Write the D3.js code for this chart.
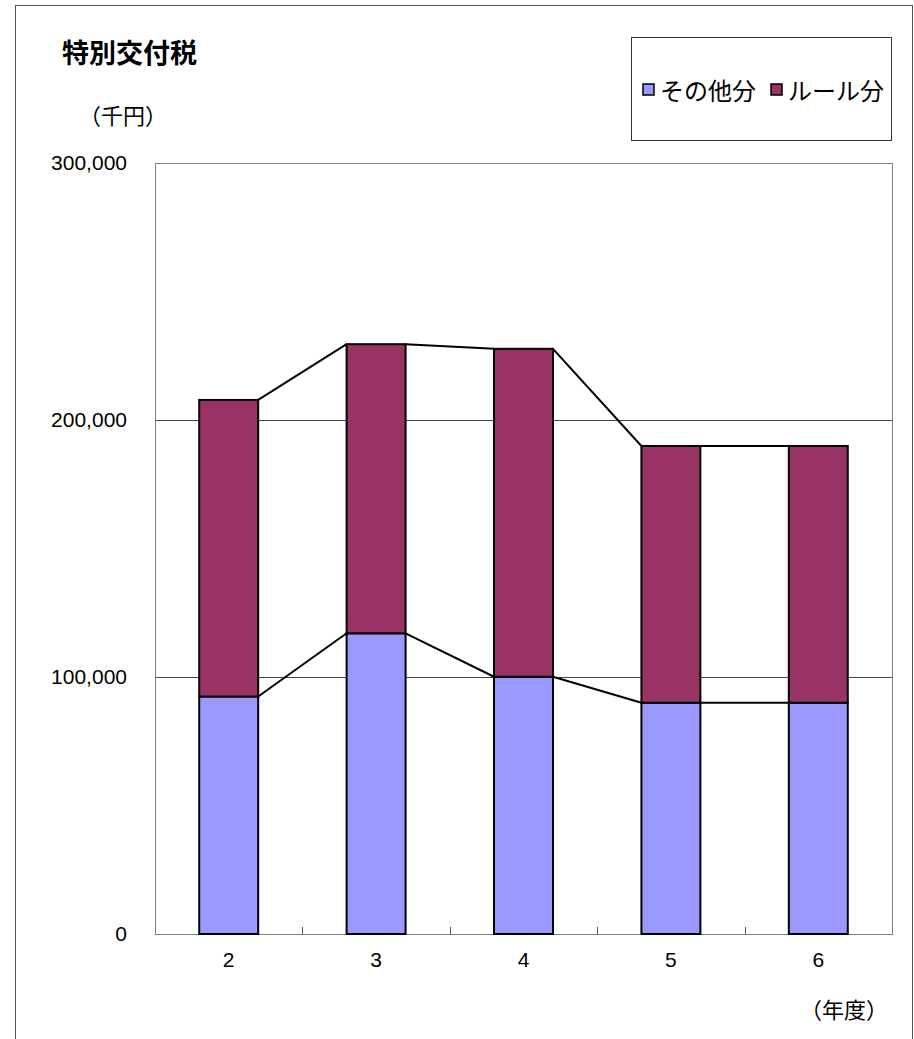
<!DOCTYPE html>
<html>
<head>
<meta charset="utf-8">
<script src="https://cdn.jsdelivr.net/npm/d3@7"></script>
<style>
  body { margin: 0; background: #fff; }
  text { font-family: "Liberation Sans", Arial, "Noto Sans CJK JP", sans-serif; }
</style>
</head>
<body>
<div id="chart"></div>
<script>
// 年度
var years = ["2", "3", "4", "5", "6"];
// その他分 / ルール分 (千円)
var otherValues = [92400, 117000, 100100, 90000, 90000];
var ruleValues = [115400, 112500, 127600, 99900, 99900];
var yTicks = [0, 100000, 200000, 300000];
var seriesNames = ["その他分", "ルール分"];
var seriesColors = ["#9999ff", "#993366"];

var W = 914, H = 1039;
var margin = {top: 163, right: 22, bottom: 105, left: 155};
var width = W - margin.left - margin.right;
var height = H - margin.top - margin.bottom;

var svg = d3.select("#chart").append("svg")
    .attr("width", W)
    .attr("height", H);

// outer frame
svg.append("rect")
    .attr("x", 15.5).attr("y", 5.5)
    .attr("width", 897).attr("height", H)
    .attr("fill", "none").attr("stroke", "#555").attr("stroke-width", 1);

svg.append("text")
    .attr("x", 62).attr("y", 63)
    .attr("font-size", 27).attr("font-weight", "bold")
    .text("特別交付税");

svg.append("text")
    .attr("x", 79).attr("y", 124)
    .attr("font-size", 22)
    .text("（千円）");

var rows = years.map(function (y, i) {
    return {year: y, other: otherValues[i], rule: ruleValues[i]};
});

var xscale = d3.scaleBand().domain(years).range([0, width]).padding(0);
var yscale = d3.scaleLinear().domain([0, 300000]).range([height, 0]);
var barW = xscale.bandwidth() * 0.4;

var g = svg.append("g")
    .attr("transform", "translate(" + margin.left + "," + margin.top + ")");

// grid lines
g.append("g").selectAll("line")
    .data(yTicks.filter(function (d) { return d > 0 && d < 300000; }))
    .enter().append("line")
    .attr("x1", 0).attr("x2", width)
    .attr("y1", function (d) { return Math.round(yscale(d)) + 0.5; })
    .attr("y2", function (d) { return Math.round(yscale(d)) + 0.5; })
    .attr("stroke", "#444").attr("stroke-width", 1);

// plot frame
g.append("rect")
    .attr("x", 0.5).attr("y", 0.5)
    .attr("width", width).attr("height", height)
    .attr("fill", "none").attr("stroke", "#808080").attr("stroke-width", 1);

// y axis labels
var yAxis = d3.axisLeft(yscale).tickValues(yTicks).tickSize(0).tickPadding(28)
    .tickFormat(d3.format(","));
g.append("g").call(yAxis)
    .call(function (s) { s.select(".domain").remove(); })
    .selectAll("text")
    .attr("font-size", 21)
    .attr("fill", "#000")
    .style("font-family", "'Liberation Sans', Arial, sans-serif");

// x axis
var xAxis = d3.axisBottom(xscale).tickSize(0).tickPadding(18);
var xg = g.append("g").attr("transform", "translate(0," + height + ")").call(xAxis);
xg.select(".domain").attr("stroke", "#808080");
xg.selectAll("text").attr("font-size", 21).attr("fill", "#000")
    .style("font-family", "'Liberation Sans', Arial, sans-serif");

// category separators (inward ticks)
xg.selectAll("line.sep")
    .data(years.slice(1))
    .enter().append("line")
    .attr("class", "sep")
    .attr("x1", function (d) { return Math.round(xscale(d)) + 0.5; })
    .attr("x2", function (d) { return Math.round(xscale(d)) + 0.5; })
    .attr("y1", 0).attr("y2", -7)
    .attr("stroke", "#555");

// stacked bars
var stack = d3.stack().keys(["other", "rule"]);
var layers = stack(rows);

function barLeft(d) { return xscale(d.data.year) + (xscale.bandwidth() - barW) / 2; }

g.append("g").selectAll("g")
    .data(layers)
    .enter().append("g")
    .attr("fill", function (d, i) { return seriesColors[i]; })
    .selectAll("rect")
    .data(function (d) { return d; })
    .enter().append("rect")
    .attr("x", barLeft)
    .attr("y", function (d) { return yscale(d[1]); })
    .attr("width", barW)
    .attr("height", function (d) { return yscale(d[0]) - yscale(d[1]); })
    .attr("stroke", "#000")
    .attr("stroke-width", 2);

// series lines between bars
layers.forEach(function (layer) {
    var segs = [];
    for (var i = 0; i < layer.length - 1; i++) {
        segs.push([layer[i], layer[i + 1]]);
    }
    g.append("g").selectAll("line")
        .data(segs)
        .enter().append("line")
        .attr("x1", function (d) { return barLeft(d[0]) + barW; })
        .attr("y1", function (d) { return yscale(d[0][1]); })
        .attr("x2", function (d) { return barLeft(d[1]); })
        .attr("y2", function (d) { return yscale(d[1][1]); })
        .attr("stroke", "#000")
        .attr("stroke-width", 2);
});

svg.append("text")
    .attr("x", 800).attr("y", 1018)
    .attr("font-size", 22)
    .text("（年度）");

// legend
var legend = svg.append("g");
legend.append("rect")
    .attr("x", 631.5).attr("y", 37.5)
    .attr("width", 260).attr("height", 103)
    .attr("fill", "#fff").attr("stroke", "#333").attr("stroke-width", 1);

var legendX = [643, 771];
seriesNames.forEach(function (name, i) {
    legend.append("rect")
        .attr("x", legendX[i]).attr("y", 84)
        .attr("width", 11).attr("height", 11)
        .attr("fill", seriesColors[i])
        .attr("stroke", "#000").attr("stroke-width", 1.5);
    legend.append("text")
        .attr("x", legendX[i] + 17).attr("y", 100)
        .attr("font-size", 24)
        .text(name);
});
</script>
</body>
</html>
